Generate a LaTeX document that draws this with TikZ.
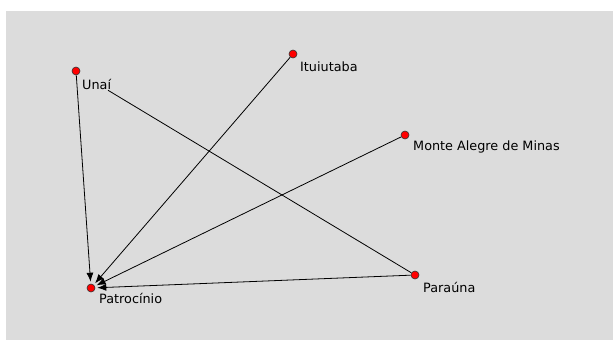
\documentclass[tikz,border=0pt]{standalone}
\usepackage{fontspec}
\setmainfont{DejaVu Sans}
\usetikzlibrary{arrows.meta}
\definecolor{panel}{RGB}{220,220,220}
\tikzset{
  town/.style={circle,fill=red,draw=black!80,line width=.6pt,inner sep=0pt,minimum size=8pt},
  townname/.style={anchor=west,inner sep=0pt,font=\fontsize{12.8}{15}\selectfont},
  road/.style={line width=.8pt,-{Latex[length=9pt,width=7pt]},shorten >=2pt}
}
\begin{document}
\begin{tikzpicture}[x=1pt,y=-1pt]
\useasboundingbox (0,0) rectangle (613,340);
\fill [panel] (6,11) rectangle (613,340);
% towns
\node [town] (unai) at (76,71) {};
\node [town] (itui) at (293,54) {};
\node [town] (monte) at (405,135) {};
\node [town] (parauna) at (415,275) {};
\node [town] (patro) at (91,288) {};
% roads into Patrocinio
\draw [road] (unai) -- (patro);
\draw [road] (itui) -- (patro);
\draw [road] (monte) -- (patro);
\draw [road] (parauna) -- (patro);
\draw [line width=.8pt, shorten <=33pt] (unai) -- (parauna);
% names
\node [townname] (unai-l) at ([shift={(6,13)}]unai.center) {Unaí};
\node [townname] (itui-l) at ([shift={(7,13)}]itui.center) {Ituiutaba};
\node [townname] (monte-l) at ([shift={(8,12)}]monte.center) {Monte Alegre de Minas};
\node [townname] (parauna-l) at ([shift={(8,12)}]parauna.center) {Paraúna};
\node [townname] (patro-l) at ([shift={(8,10)}]patro.center) {Patrocínio};
\end{tikzpicture}
\end{document}
